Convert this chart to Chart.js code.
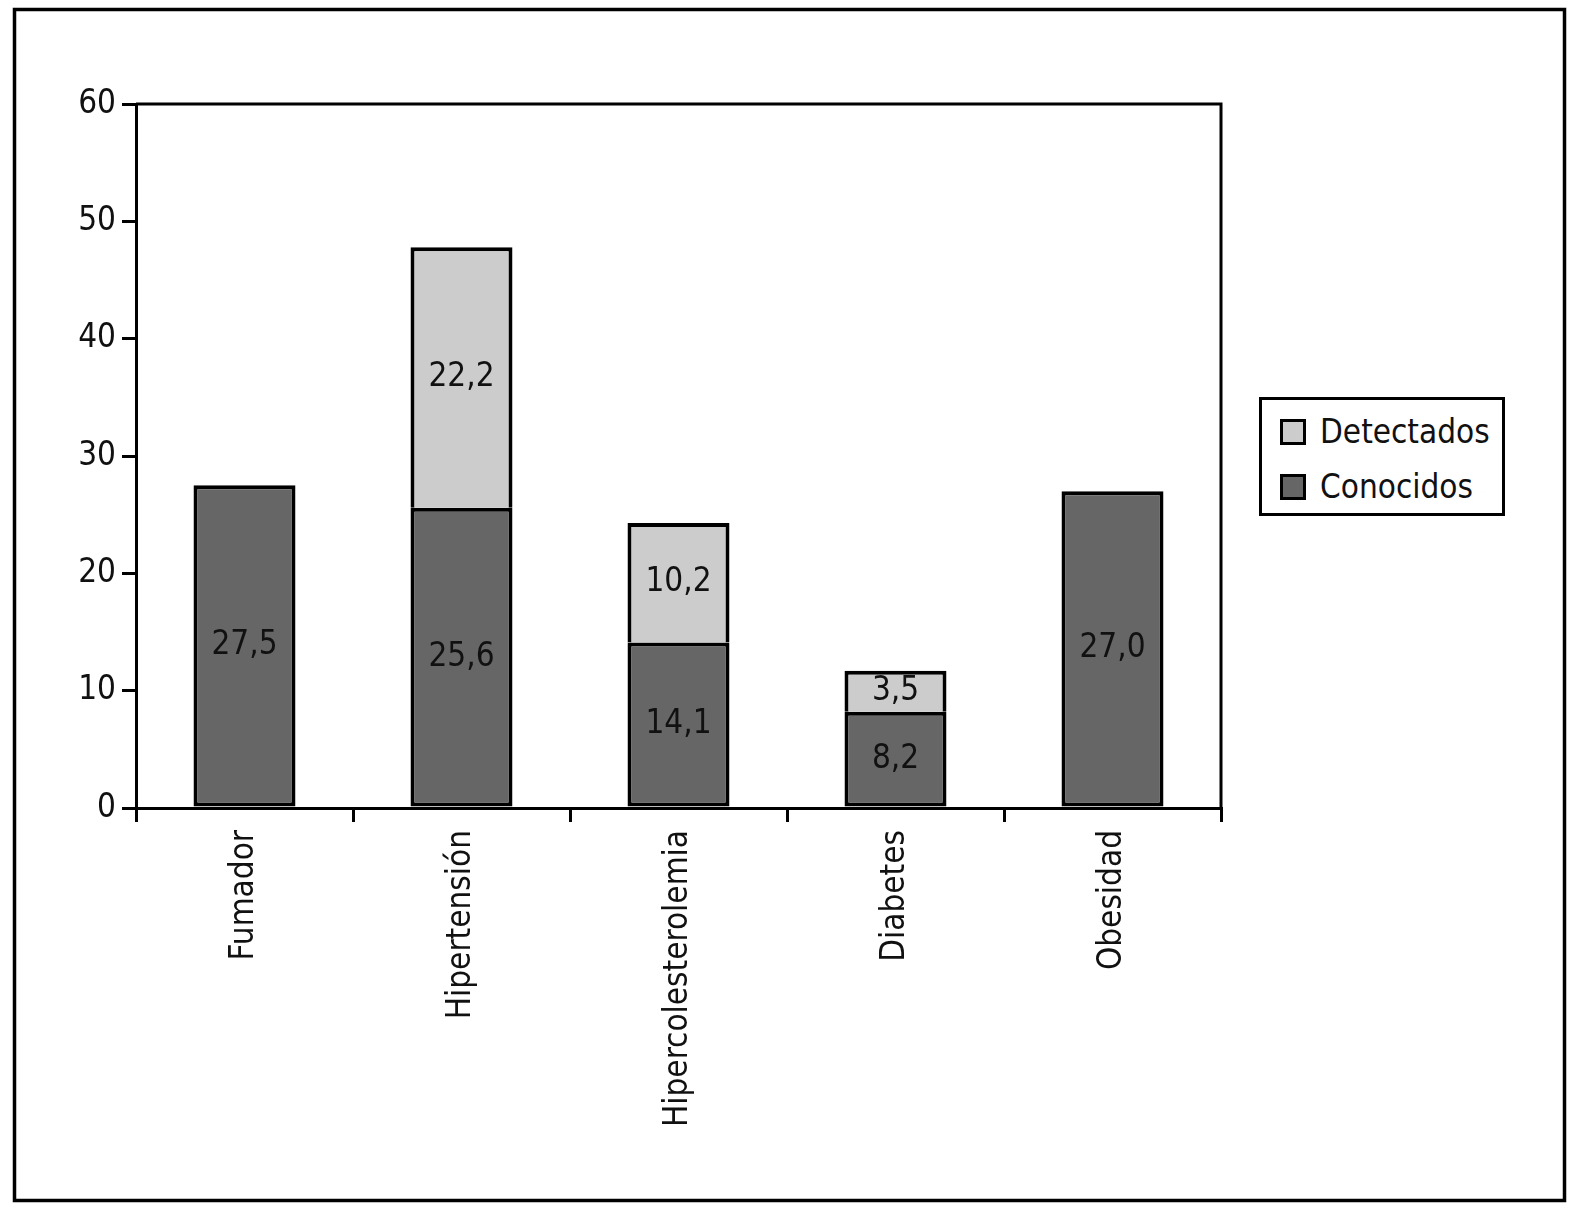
<!DOCTYPE html>
<html>
<head>
<meta charset="utf-8">
<script src="https://cdn.jsdelivr.net/npm/chart.js@4.4.0/dist/chart.umd.min.js"></script>
<style>
  body { margin: 0; background: #fff; }
  #wrap { width: 1571px; height: 1214px; position: relative; }
  #canvas { position: absolute; left: 0; top: 0; }
  #leyenda {
    position: absolute; left: 1259px; top: 397px; width: 240px; height: 113px;
    border: 3.5px solid #000; background: #fff;
    font-family: "DejaVu Sans Condensed", sans-serif; font-size: 33px; color: #111;
  }
  .item { position: absolute; left: 18px; height: 40px; line-height: 40px; white-space: nowrap; }
  .item span.caja {
    display: inline-block; width: 20px; height: 20px; border: 3.5px solid #000;
    vertical-align: middle; margin-right: 14px; position: relative; top: -2px;
  }
</style>
</head>
<body>
<div id="wrap">
  <canvas id="canvas" width="1571" height="1214"></canvas>
  <div id="leyenda"></div>
</div>
<script>
var categorias = ['Fumador', 'Hipertensión', 'Hipercolesterolemia', 'Diabetes', 'Obesidad']
var conocidos = [27.5, 25.6, 14.1, 8.2, 27.0]
var detectados = [0, 22.2, 10.2, 3.5, 0]
var yTicks = [0, 10, 20, 30, 40, 50, 60]

var FONT = '"DejaVu Sans Condensed", sans-serif'

// marco exterior y marco del area de trazado
var marcos = {
    id: 'marcos',
    beforeDraw: function(chart) {
        var ctx = chart.ctx
        ctx.save()
        ctx.strokeStyle = '#000'
        ctx.lineWidth = 3.5
        ctx.strokeRect(14.5, 9.5, 1550, 1191)
        var a = chart.chartArea
        ctx.lineWidth = 3
        ctx.beginPath()
        ctx.moveTo(a.left, a.top)
        ctx.lineTo(a.right, a.top)
        ctx.lineTo(a.right, a.bottom)
        ctx.stroke()
        ctx.restore()
    }
}

// valores dentro de cada tramo de barra
var etiquetas = {
    id: 'etiquetas',
    afterDatasetsDraw: function(chart) {
        var ctx = chart.ctx
        ctx.save()
        ctx.font = '33px ' + FONT
        ctx.fillStyle = '#111'
        ctx.textAlign = 'center'
        ctx.textBaseline = 'middle'
        chart.data.datasets.forEach(function(ds, i) {
            chart.getDatasetMeta(i).data.forEach(function(bar, j) {
                var v = ds.data[j]
                if (!v) return
                var y = (bar.y + bar.base) / 2
                ctx.fillText(v.toFixed(1).replace('.', ','), bar.x, y)
            })
        })
        ctx.restore()
    }
}

var ctx = document.getElementById('canvas').getContext('2d')
var chart = new Chart(ctx, {
    type: 'bar',
    data: {
        labels: categorias,
        datasets: [{
            label: 'Conocidos',
            data: conocidos,
            backgroundColor: '#666666',
            borderColor: '#000',
            borderWidth: 4,
            borderSkipped: false,
            barPercentage: 0.47,
            categoryPercentage: 1
        }, {
            label: 'Detectados',
            data: detectados,
            backgroundColor: '#cccccc',
            borderColor: '#000',
            borderWidth: 4,
            borderSkipped: 'bottom',
            barPercentage: 0.47,
            categoryPercentage: 1
        }]
    },
    plugins: [marcos, etiquetas],
    options: {
        responsive: false,
        animation: false,
        layout: { padding: { left: 40, top: 104, right: 350, bottom: 20 } },
        plugins: {
            tooltip: { enabled: false },
            legend: { display: false }
        },
        scales: {
            x: {
                stacked: true,
                grid: { display: true, drawOnChartArea: false, offset: true, tickLength: 14, color: '#000', lineWidth: 3 },
                border: { color: '#000', width: 3 },
                ticks: {
                    font: { family: FONT, size: 33 },
                    color: '#111',
                    minRotation: 90,
                    maxRotation: 90,
                    padding: 8
                },
                afterFit: function(scale) { scale.height = 1214 - 808 - 20 }
            },
            y: {
                stacked: true,
                min: 0,
                max: 60,
                afterBuildTicks: function(scale) { scale.ticks = yTicks.map(v => ({ value: v })) },
                grid: { display: true, drawOnChartArea: false, tickLength: 14, color: '#000', lineWidth: 3 },
                border: { color: '#000', width: 3 },
                ticks: {
                    font: { family: FONT, size: 33 },
                    color: '#111',
                    padding: 6
                },
                afterFit: function(scale) { scale.width = 136 - 40 }
            }
        }
    }
})

// leyenda, en orden inverso al apilado
var leyenda = document.getElementById('leyenda')
chart.data.datasets.slice().reverse().forEach(function(ds, i) {
    var d = document.createElement('div')
    d.className = 'item'
    d.style.top = (12 + i * 55) + 'px'
    d.innerHTML = '<span class="caja" style="background:' + ds.backgroundColor + '"></span>' + ds.label
    leyenda.appendChild(d)
})
</script>
</body>
</html>
